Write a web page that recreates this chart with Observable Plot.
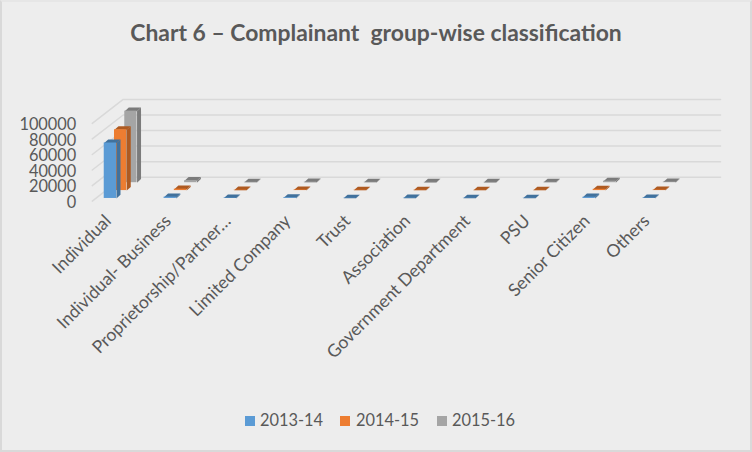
<!DOCTYPE html>
<html><head><meta charset="utf-8">
<script src="https://cdn.jsdelivr.net/npm/d3@7"></script>
<script src="https://cdn.jsdelivr.net/npm/@observablehq/plot@0.6"></script>
<style>
html,body{margin:0;padding:0;background:#ededed;overflow:hidden}
#page{position:relative;width:752px;height:452px;box-sizing:border-box;border:2px solid #d9d9d9;border-top-color:#e6e6e6;background:#ededed;font-family:Lato,sans-serif;color:#595959}
#title{position:absolute;left:0;right:0;top:16px;text-align:center;font-size:22.9px;font-weight:700;line-height:28px;color:#595959;white-space:pre}
#chart{position:absolute;left:-2px;top:68px}
#chart svg{display:block;background:transparent}
#legend{position:absolute;left:0;top:406px;width:100%;height:24px;font-size:16.4px;line-height:24px}
#legend span{position:absolute;top:0;white-space:nowrap}
#legend i{position:absolute;top:8px;width:10px;height:10px}
</style></head><body>
<div id="page">
<div id="title">Chart 6 – Complainant  group-wise classification</div>
<div id="chart"></div>
<div id="legend"></div>
</div>
<script>
const categories=["Individual","Individual- Business","Proprietorship/Partner…","Limited Company","Trust","Association","Government Department","PSU","Senior Citizen","Others"];
const seriesNames=["2013-14","2014-15","2015-16"];
const v2013=[71300,1700,500,900,300,400,300,300,1600,500];
const v2014=[78200,1800,500,700,400,400,300,300,1600,600];
const v2015=[92000,2600,500,700,500,400,400,500,1900,800];
const yTicks=[0,20000,40000,60000,80000,100000];
const frontColors=["#5b9bd5","#ed7d31","#a5a5a5"];
const topColors=["#41719c","#ae5a21","#7b7b7b"];
const sideColors=["#41719c","#ae5a21","#7b7b7b"];

// oblique projection, expressed in data units
const pxX=1/60, pxY=100000/78;
const wallDX=31*pxX, wallDY=24*pxY;
const barW=12.3*pxX, stepX=10.3*pxX, stepY=7.9*pxY, baseY=2.7*pxY, depX=4*pxX, depY=3.6*pxY;
const xLeft=-0.2, xRight=10.3;

const marks=[];
const grid=[];
yTicks.forEach(t=>{
  grid.push({id:t,x:xLeft,y:t},{id:t,x:xLeft+wallDX,y:t+wallDY},{id:t,x:xRight,y:t+wallDY});
});
marks.push(Plot.line(grid,{x:"x",y:"y",z:"id",stroke:"#d9d9d9",strokeWidth:1.5,curve:"linear"}));

[v2015,v2014,v2013].forEach((vals,k)=>{
  const s=2-k;
  const rows=vals.map((v,i)=>{
    const x1=i+s*stepX, x2=x1+barW, y1=baseY+s*stepY, y2=y1+v;
    return {i,x1,x2,y1,y2};
  });
  const side=rows.flatMap(r=>[
    {id:r.i,x:r.x2,y:r.y1},{id:r.i,x:r.x2+depX,y:r.y1+depY},{id:r.i,x:r.x2+depX,y:r.y2+depY},{id:r.i,x:r.x2,y:r.y2}]);
  const top=rows.flatMap(r=>[
    {id:r.i,x:r.x1,y:r.y2},{id:r.i,x:r.x1+depX,y:r.y2+depY},{id:r.i,x:r.x2+depX,y:r.y2+depY},{id:r.i,x:r.x2,y:r.y2}]);
  marks.push(Plot.line(side,{x:"x",y:"y",z:"id",fill:sideColors[s],stroke:null}));
  marks.push(Plot.line(top,{x:"x",y:"y",z:"id",fill:topColors[s],stroke:null}));
  marks.push(Plot.rect(rows,{x1:"x1",x2:"x2",y1:"y1",y2:"y2",fill:frontColors[s]}));
});

marks.push(Plot.axisY({ticks:yTicks,tickSize:0,tickPadding:16,dy:1.5,label:null,tickFormat:d=>String(d),fontSize:16.4,color:"#595959",fontFamily:"Lato, sans-serif"}));
marks.push(Plot.text(categories,{x:(d,i)=>i+0.1,y:()=>0,text:d=>d,rotate:-45,textAnchor:"end",dx:-2,dy:17,fontSize:17.6,fill:"#595959",fontFamily:"Lato, sans-serif"}));

const plot=Plot.plot({
  width:752,height:332,
  marginLeft:92,marginRight:30,marginTop:0,marginBottom:0,
  style:{background:"transparent",overflow:"visible"},
  x:{type:"linear",domain:[xLeft,xRight],axis:null},
  y:{type:"linear",domain:[0,100000],range:[131,53],axis:null},
  marks
});
document.getElementById("chart").append(plot);

const lg=document.getElementById("legend");
const pos=[243,338,435];
const tpos=[258,354,450];
seriesNames.forEach((n,i)=>{
  const sw=document.createElement("i");sw.style.left=pos[i]+"px";sw.style.background=frontColors[i];lg.append(sw);
  const t=document.createElement("span");t.textContent=n;t.style.left=tpos[i]+"px";lg.append(t);
});
</script></body></html>
